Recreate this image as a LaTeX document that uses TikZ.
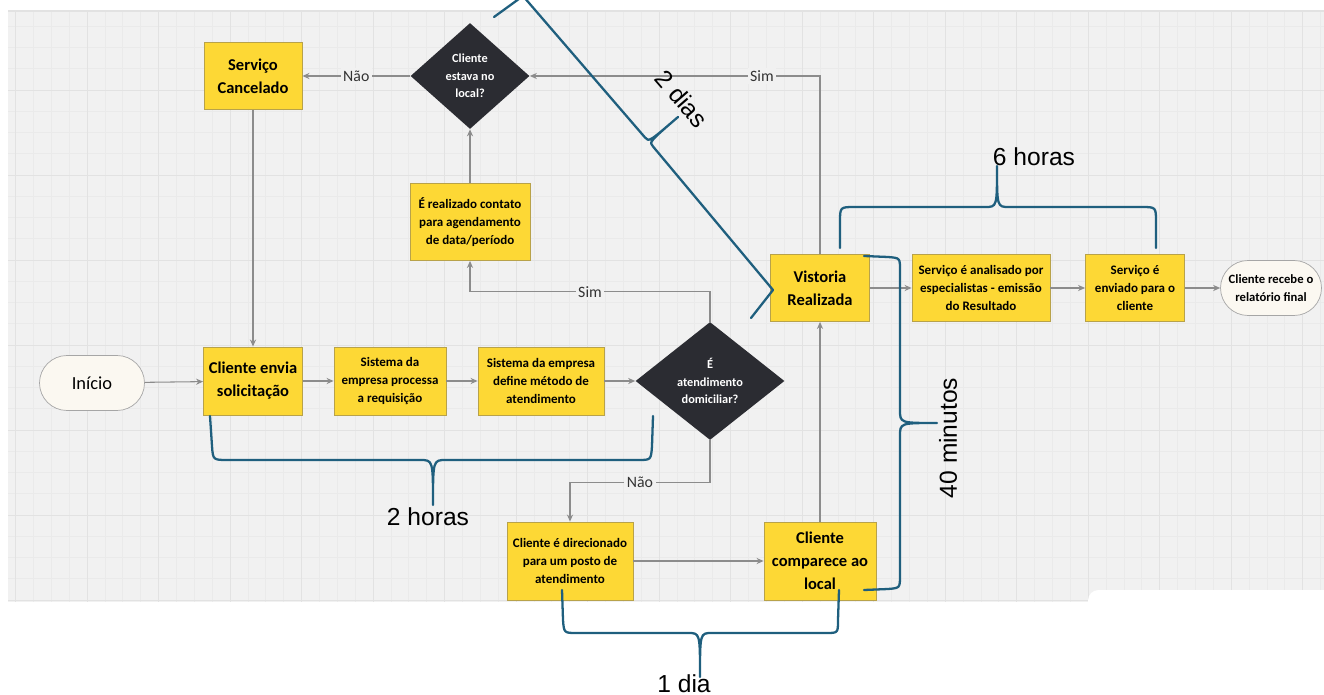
\documentclass[tikz,border=0pt]{standalone}
\usepackage{fontspec}
\setmainfont{Carlito}
\newfontfamily\timefont{Liberation Sans}
\usetikzlibrary{positioning,shapes.geometric,arrows.meta}

\definecolor{canvas}{HTML}{F1F1F1}
\definecolor{gridminor}{HTML}{EAEAEA}
\definecolor{gridmajor}{HTML}{E2E2E2}
\definecolor{boxyellow}{HTML}{FDD835}
\definecolor{boxedge}{HTML}{B8A24A}
\definecolor{decdark}{HTML}{2B2C32}
\definecolor{flowgrey}{HTML}{8C8C8C}
\definecolor{bracecol}{HTML}{1F5F7E}
\definecolor{pillfill}{HTML}{FBF8F1}

\tikzset{
  stepbox/.style={draw=boxedge, fill=boxyellow, line width=0.5pt, align=center,
    inner sep=1pt, font=\bfseries\fontsize{7.4}{10}\selectfont},
  bigbox/.style={stepbox, font=\bfseries\fontsize{9.4}{13}\selectfont},
  decision/.style={shape=diamond, fill=decdark, inner sep=0pt},
  dectext/.style={text=white, align=center, font=\bfseries\fontsize{7}{10}\selectfont},
  terminal/.style={draw=gray!70, fill=pillfill, rounded corners=0.55cm, align=center,
    minimum height=1.1cm, inner sep=1pt},
  flow/.style={draw=flowgrey, line width=0.6pt, -{Stealth[length=4pt,width=3.5pt]}},
  lbl/.style={fill=canvas, inner sep=1.5pt, text=black!80, font=\fontsize{9}{10}\selectfont},
  timebrace/.style={draw=bracecol, line width=1.3pt, line join=round, line cap=round},
  timetext/.style={font=\timefont\fontsize{14}{16}\selectfont}
}

\begin{document}
\begin{tikzpicture}[x=0.02cm, y=-0.02cm]
\clip (0,0) rectangle (1324,695);

% canvas and grid
\fill[canvas] (8,11) rectangle (1324,602);
\draw[gridmajor, line width=0.6pt] (8,11) -- (1324,11);
\foreach \gx in {0,...,73} \draw[gridminor, line width=0.3pt] ({15.5+17.875*\gx},12) -- ({15.5+17.875*\gx},602);
\foreach \gy in {1,...,28} \draw[gridminor, line width=0.3pt] (8,{5+21.25*\gy}) -- (1324,{5+21.25*\gy});
\foreach \gx in {0,...,18} \draw[gridmajor, line width=0.5pt] ({15.5+71.5*\gx},12) -- ({15.5+71.5*\gx},602);
\foreach \gy in {1,...,7} \draw[gridmajor, line width=0.5pt] (8,{5+85*\gy}) -- (1324,{5+85*\gy});
\fill[white, rounded corners=6pt] (1088,590) rectangle (1340,710);

% steps
\node[terminal, minimum width=2.1cm, font=\fontsize{10.5}{12}\selectfont] (inicio) at (92,383) {Início};
\node[bigbox, minimum width=1.98cm, minimum height=1.36cm] (envia) at (253,381) {Cliente envia\\solicitação};
\node[stepbox, minimum width=2.24cm, minimum height=1.36cm] (processa) at (390,381) {Sistema da\\empresa processa\\a requisição};
\node[stepbox, minimum width=2.52cm, minimum height=1.36cm] (define) at (541,381) {Sistema da empresa\\define método de\\atendimento};
\node[decision, minimum width=2.98cm, minimum height=2.36cm,
  label={[dectext]center:{É\\atendimento\\domiciliar?}}] (qdom) at (710,381) {};

\node[stepbox, minimum width=2.4cm, minimum height=1.54cm] (contato) at (470,222) {É realizado contato\\para agendamento\\de data/período};
\node[decision, minimum width=2.38cm, minimum height=2.12cm,
  label={[dectext]center:{Cliente\\estava no\\local?}}] (qlocal) at (470,76) {};
\node[bigbox, minimum width=1.96cm, minimum height=1.34cm] (cancel) at (253,76) {Serviço\\Cancelado};

\node[stepbox, minimum width=2.52cm, minimum height=1.56cm] (direc) at (570,561) {Cliente é direcionado\\para um posto de\\atendimento};
\node[bigbox, minimum width=2.24cm, minimum height=1.56cm] (compar) at (820,561) {Cliente\\comparece ao\\local};

\node[bigbox, minimum width=1.98cm, minimum height=1.34cm] (vistoria) at (820,288) {Vistoria\\Realizada};
\node[stepbox, minimum width=2.76cm, minimum height=1.34cm] (analise) at (981,288) {Serviço é analisado por\\especialistas - emissão\\do Resultado};
\node[stepbox, minimum width=1.98cm, minimum height=1.34cm] (enviado) at (1135,288) {Serviço é\\enviado para o\\cliente};
\node[terminal, minimum width=2.02cm, font=\bfseries\fontsize{7.2}{10}\selectfont] (recebe) at (1271,288) {Cliente recebe o\\relatório final};

% flow
\draw[flow] (inicio) -- (envia);
\draw[flow] (envia) -- (processa);
\draw[flow] (processa) -- (define);
\draw[flow] (define) -- (qdom);
\draw[flow] (qdom.north) -- ++(0,-30) -| node[lbl, pos=0.25] {Sim} (contato.south);
\draw[flow] (contato) -- (qlocal);
\draw[flow] (qlocal) -- node[lbl] {Não} (cancel);
\draw[flow] (cancel) -- (envia);
\draw[flow] (qdom.south) -- ++(0,42) -| node[lbl, pos=0.25] {Não} (direc.north);
\draw[flow] (direc) -- (compar);
\draw[flow] (compar) -- (vistoria);
\draw[flow] (vistoria.north) |- node[lbl, pos=0.6] {Sim} (qlocal.east);
\draw[flow] (vistoria) -- (analise);
\draw[flow] (analise) -- (enviado);
\draw[flow] (enviado) -- (recebe);

% time braces
\draw[timebrace] (210,416) -- (212,446) .. controls (213,460) .. (228,460) -- (420,460)
  .. controls (433,460) .. (433,505) .. controls (433,460) .. (446,460) -- (638,460)
  .. controls (651,460) .. (652,446) -- (653,416);
\node[timetext] (t2h) at (428,517) {2 horas};

\draw[timebrace] (562,590) -- (563,620) .. controls (564,633) .. (577,633) -- (688,633)
  .. controls (700,633) .. (700,677) .. controls (700,633) .. (712,633) -- (826,633)
  .. controls (838,633) .. (838,620) -- (839,590);
\node[timetext] (t1d) at (684,684) {1 dia};

\draw[timebrace] (840,248) -- (840,222) .. controls (840,207) .. (855,207) -- (985,207)
  .. controls (997,207) .. (997,166) .. controls (997,207) .. (1009,207) -- (1141,207)
  .. controls (1156,207) .. (1156,222) -- (1156,248);
\node[timetext] (t6h) at (1034,157) {6 horas};

\draw[timebrace] (864,256) -- (888,257) .. controls (900,258) .. (900,270) -- (900,410)
  .. controls (900,423) .. (937,423) .. controls (900,423) .. (900,436) -- (900,575)
  .. controls (900,588) .. (888,589) -- (864,590);
\node[timetext, rotate=90] (t40) at (948,438) {40 minutos};

\draw[timebrace] (494,17) -- (523,-4) -- (645,137.5) .. controls (649,142) .. (678,117)
  .. controls (649,142) .. (653,146.5) -- (773,290) -- (751,318);
\node[timetext, rotate=-49] (t2d) at (682,99) {2 dias};

\end{tikzpicture}
\end{document}
